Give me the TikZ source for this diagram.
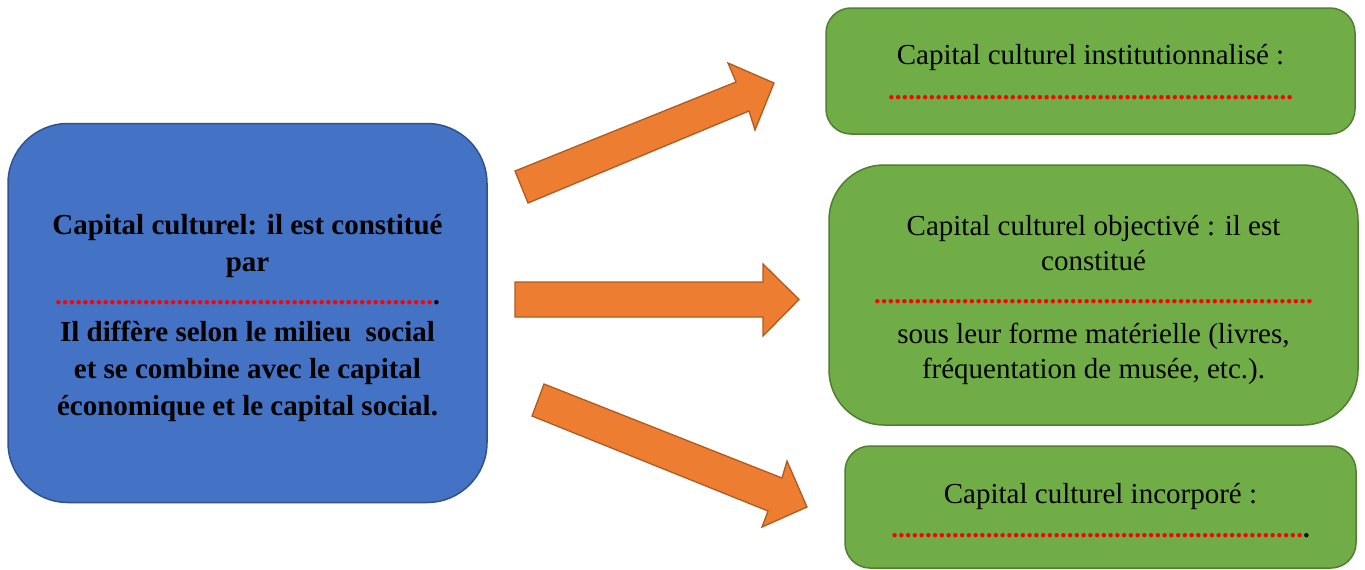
\documentclass[tikz,border=0pt]{standalone}
\usepackage{fontspec}
\setmainfont{Liberation Serif}
\definecolor{bluefill}{HTML}{4472C4}
\definecolor{blueline}{HTML}{2F528F}
\definecolor{greenfill}{HTML}{70AD47}
\definecolor{greenline}{HTML}{507E32}
\definecolor{orangefill}{HTML}{ED7D31}
\definecolor{orangeline}{HTML}{AE5A21}
\newcommand\rdots[1]{{\fontsize{27}{35}\selectfont\bfseries\textcolor{red}{\foreach \i in {1,...,#1}{.}}}}
\newcommand\bdot{{\fontsize{27}{35}\selectfont\bfseries .}}
\begin{document}
\begin{tikzpicture}[x=1pt,y=-1pt,
  bluebox/.style={draw=blueline,fill=bluefill,line width=1.5pt,inner sep=0pt},
  greenbox/.style={draw=greenline,fill=greenfill,line width=1.5pt,inner sep=0pt},
  bluetext/.style={align=center,inner sep=0pt,font=\fontsize{29}{37}\selectfont\bfseries,text=black},
  greentext/.style={align=center,inner sep=0pt,font=\fontsize{29}{35}\selectfont,text=black},
  blockarrow/.style={draw=orangeline,fill=orangefill,line width=1.3pt,line join=miter}]
\useasboundingbox (0,0) rectangle (1365,570);

\node[bluebox,minimum width=479pt,minimum height=379pt,rounded corners=60pt] (cap) at (247.5,313) {};
\node[bluetext] (capt) at ([yshift=-5pt]cap.center)
  {Capital culturel: il est constitué\\ par\\[-4pt] \rdots{56}\bdot\\ Il diffère selon le milieu\ \ social\\ et se combine avec le capital\\ économique et le capital social.};

\node[greenbox,minimum width=529pt,minimum height=126pt,rounded corners=25pt] (inst) at (1090.5,71) {};
\node[greentext] (instt) at ([yshift=-1.5pt]inst.center)
  {Capital culturel institutionnalisé :\\ \rdots{60}};

\node[greenbox,minimum width=529pt,minimum height=260pt,rounded corners=55pt] (obj) at (1093.5,295) {};
\node[greentext] (objt) at ([yshift=-5pt]obj.center)
  {Capital culturel objectivé : il est\\ constitué\\[-2pt] \rdots{65}\\[5pt] sous leur forme matérielle (livres,\\ fréquentation de musée, etc.).};

\node[greenbox,minimum width=511pt,minimum height=122pt,rounded corners=25pt] (inc) at (1100.5,507) {};
\node[greentext] (inct) at ([yshift=-4pt]inc.center)
  {Capital culturel incorporé :\\[-1pt] \rdots{61}\bdot};

% block arrows
\draw[blockarrow] (515,171) -- (736,82) -- (728,63) -- (774,83) -- (755,130) -- (749,111) -- (528,203) -- cycle;
\draw[blockarrow] (515,282) -- (763,282) -- (763,264) -- (799,299.5) -- (763,336) -- (763,317) -- (515,317) -- cycle;
\draw[blockarrow] (544,384) -- (782,478) -- (787,461) -- (807,507) -- (762,527) -- (768,511) -- (532,416) -- cycle;
\end{tikzpicture}
\end{document}
